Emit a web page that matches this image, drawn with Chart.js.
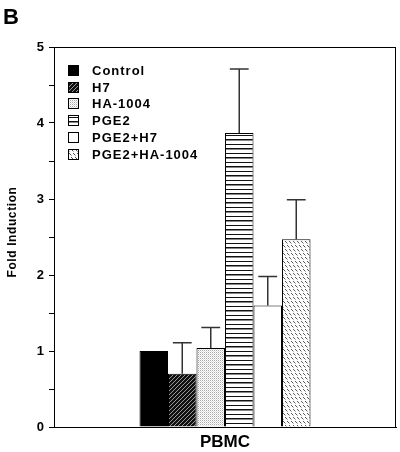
<!DOCTYPE html>
<html>
<head>
<meta charset="utf-8">
<script src="https://cdn.jsdelivr.net/npm/chart.js@4"></script>
<style>
  html, body { margin: 0; padding: 0; background: #fff; }
  #wrap { width: 400px; height: 452px; }
</style>
</head>
<body>
<div id="wrap"><canvas id="chart" width="400" height="452"></canvas></div>
<script>
const categories = ['PBMC'];
const treatments = ['Control', 'H7', 'HA-1004', 'PGE2', 'PGE2+H7', 'PGE2+HA-1004'];
const foldValues = [1.0, 0.7, 1.04, 3.87, 1.6, 2.47];
const errorValues = [0, 0.41, 0.27, 0.84, 0.38, 0.52];
const yTickLabels = [0, 1, 2, 3, 4, 5];

const FONT = '"Liberation Sans", Arial, sans-serif';
Chart.defaults.font.family = FONT;
Chart.defaults.color = '#000';

// small tiles for the print-style fills
const makeTile = (w, h, draw) => {
  const c = document.createElement('canvas');
  c.width = w; c.height = h;
  const t = c.getContext('2d');
  draw(t);
  return document.getElementById('chart').getContext('2d').createPattern(c, 'repeat');
};

const dots = (t, color, pts) => {
  t.fillStyle = color;
  pts.forEach(([x, y]) => t.fillRect(x, y, 1, 1));
};

const fills = [
  '#000',
  makeTile(4, 4, (t) => {
    t.fillStyle = '#111'; t.fillRect(0, 0, 4, 4);
    dots(t, '#9a9a9a', [[0, 3], [1, 2], [2, 1], [3, 0]]);
  }),
  makeTile(2, 2, (t) => {
    t.fillStyle = '#fff'; t.fillRect(0, 0, 2, 2);
    dots(t, '#a8a8a8', [[0, 0]]);
    dots(t, '#dedede', [[1, 1]]);
  }),
  makeTile(1, 9, (t) => {
    t.fillStyle = '#fff'; t.fillRect(0, 0, 1, 9);
    dots(t, '#111', [[0, 0], [0, 4]]);
    dots(t, '#888', [[0, 5]]);
  }),
  '#fff',
  makeTile(8, 8, (t) => {
    t.fillStyle = '#fff'; t.fillRect(0, 0, 8, 8);
    dots(t, '#555', [[1, 1], [2, 2], [5, 5], [6, 6]]);
    dots(t, '#aaa', [[3, 3], [7, 7]]);
  })
];

// staggered short dashes for the last fill
fills[5] = makeTile(8, 8, (t) => {
  t.fillStyle = '#fff'; t.fillRect(0, 0, 8, 8);
  dots(t, '#555', [[1, 1], [2, 2], [5, 1], [6, 2], [3, 5], [4, 6], [7, 5], [0, 6]]);
  dots(t, '#b0b0b0', [[3, 3], [7, 3], [5, 7], [1, 7]]);
});

const datasets = treatments.map((name, i) => ({
  label: name,
  data: [foldValues[i]],
  err: [errorValues[i]],
  backgroundColor: fills[i],
  borderColor: '#000',
  borderWidth: 1
}));

const errorBars = {
  id: 'errorBars',
  afterDatasetsDraw(chart) {
    const ctx = chart.ctx;
    const y = chart.scales.y;
    ctx.save();
    ctx.strokeStyle = '#333';
    ctx.lineWidth = 1.5;
    chart.data.datasets.forEach((ds, i) => {
      const bar = chart.getDatasetMeta(i).data[0];
      const e = ds.err[0];
      if (!e) return;
      const top = y.getPixelForValue(ds.data[0] + e);
      const half = bar.width * 0.33;
      ctx.beginPath();
      ctx.moveTo(bar.x, bar.y);
      ctx.lineTo(bar.x, top);
      ctx.moveTo(bar.x - half, top);
      ctx.lineTo(bar.x + half, top);
      ctx.stroke();
    });
    ctx.restore();
  }
};

const decorations = {
  id: 'decorations',
  afterDraw(chart) {
    const ctx = chart.ctx;
    const a = chart.chartArea;
    ctx.save();
    // frame
    ctx.strokeStyle = '#000';
    ctx.lineWidth = 1;
    ctx.strokeRect(Math.round(a.left) + 0.5, Math.round(a.top) + 0.5,
      Math.round(a.right - a.left) - 1, Math.round(a.bottom - a.top));

    // panel letter
    ctx.fillStyle = '#000';
    ctx.font = 'bold 22px ' + FONT;
    ctx.textAlign = 'left';
    ctx.textBaseline = 'alphabetic';
    ctx.fillText('B', 3, 24);

    // y title
    ctx.save();
    ctx.translate(13, 232);
    ctx.rotate(-Math.PI / 2);
    ctx.font = 'bold 12px ' + FONT;
    ctx.letterSpacing = '0.6px';
    ctx.textAlign = 'center';
    ctx.textBaseline = 'middle';
    ctx.fillText('Fold Induction', 0, 0);
    ctx.restore();

    // legend inside the plot
    ctx.font = 'bold 13px ' + FONT;
    ctx.letterSpacing = '1px';
    ctx.textBaseline = 'middle';
    chart.data.datasets.forEach((ds, i) => {
      const ry = 70.5 + i * 16.7;
      ctx.fillStyle = ds.backgroundColor;
      ctx.fillRect(68, Math.round(ry - 5.5), 11, 11);
      ctx.strokeStyle = '#000';
      ctx.strokeRect(68.5, Math.round(ry - 5.5) + 0.5, 10, 10);
      ctx.fillStyle = '#000';
      ctx.fillText(ds.label, 92, ry + 1);
    });
    ctx.restore();
  }
};

new Chart(document.getElementById('chart'), {
  type: 'bar',
  data: { labels: categories, datasets },
  options: {
    responsive: false,
    animation: false,
    layout: { padding: { top: 47, right: 4, left: 0, bottom: 0 } },
    datasets: { bar: { categoryPercentage: 0.5, barPercentage: 1.0 } },
    plugins: { legend: { display: false }, tooltip: { enabled: false } },
    scales: {
      x: {
        grid: { display: false, drawTicks: false },
        border: { display: true, color: '#000', width: 1 },
        ticks: { font: { size: 17, weight: 'bold' }, padding: 5, color: '#000' },
        afterFit: (s) => { s.height = 25; }
      },
      y: {
        min: 0,
        max: 5,
        grid: { drawOnChartArea: false, drawTicks: true, tickLength: 5, color: '#000' },
        border: { display: true, color: '#000', width: 1 },
        ticks: {
          stepSize: 0.5,
          padding: 5,
          color: '#000',
          font: { size: 13, weight: 'bold' },
          callback: (v) => (yTickLabels.includes(v) ? String(v) : '')
        },
        afterFit: (s) => { s.width = 54; }
      }
    }
  },
  plugins: [errorBars, decorations]
});
</script>
</body>
</html>
